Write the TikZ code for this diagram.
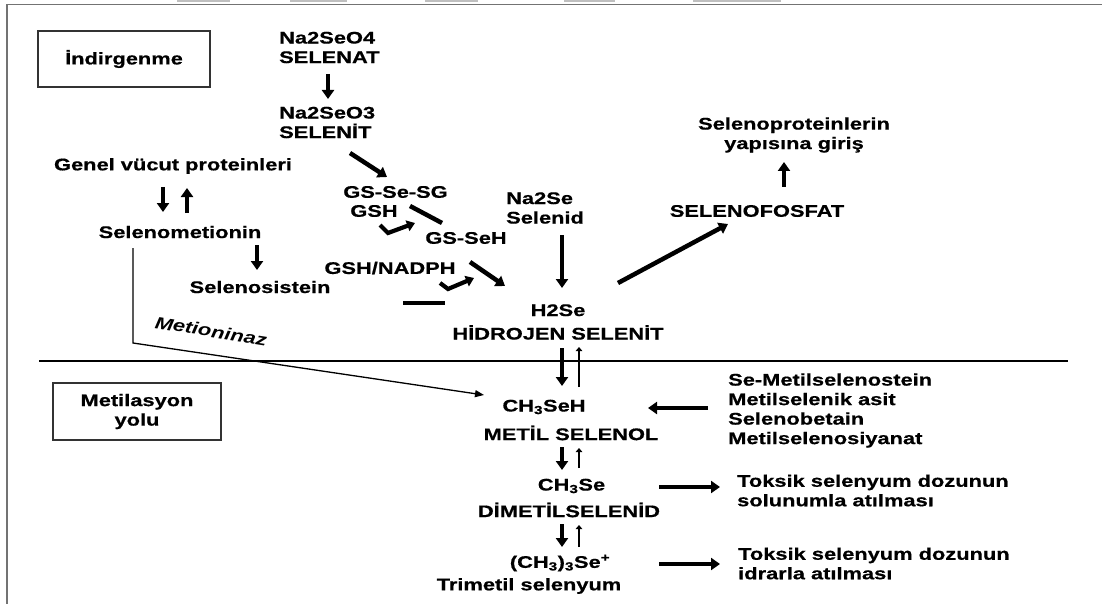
\documentclass[tikz,border=0pt]{standalone}
\usepackage{fontspec}
\setmainfont{Liberation Sans}[FakeStretch=1.3, BoldFeatures={FakeBold=0.6}]
\usetikzlibrary{arrows.meta}

\newcommand*{\xmax}{1102}
\newcommand*{\ymax}{604}

\begin{document}
\begin{tikzpicture}
[
	x=1pt, y=-1pt,
	lbl/.style={font=\fontsize{16.8}{19.5}\selectfont\bfseries, inner sep=1pt, align=left},
	lblc/.style={lbl, align=center},
	frame/.style={draw=black!80, line width=1.5pt},
	fat/.style={line width=4.5pt, -{Triangle[length=9pt,width=12pt]}},
	slim/.style={line width=1.5pt, -{Triangle[length=4pt,width=6.5pt]}},
	bar/.style={line width=4.5pt},
	hook/.style={line width=4.2pt, line join=miter, -{Triangle[length=8pt,width=11pt]}},
	enz/.style={line width=1.3pt, -{Triangle[length=9pt,width=7pt]}}
]
	\useasboundingbox (0,0) rectangle (\xmax,\ymax);

	% page edge
	\foreach \a/\b in {177/230, 290/347, 425/478, 564/615, 693/781}
		\fill[black!25] (\a,0) rectangle (\b,2.5);
	\draw[black!55, line width=1.5pt] (7,\ymax) -- (7,4.5) -- (\xmax,4.5);

	% cell boundary
	\draw[line width=2pt] (39,361) -- (1068,361);

	% upper part
	\node[lblc, frame, minimum width=172pt, minimum height=56pt] (indir) at (124,59) {İndirgenme};
	\node[lbl, anchor=west] (selenat) at (278,47.5) {Na2SeO4\\SELENAT};
	\node[lbl, anchor=west] (selenit) at (278,122.5) {Na2SeO3\\SELENİT};
	\node[lbl] (genel) at (173,166) {Genel vücut proteinleri};
	\node[lbl] (semet) at (180,232) {Selenometionin};
	\node[lbl] (secys) at (260,287) {Selenosistein};
	\node[lbl] (gssesg) at (395.5,192) {GS-Se-SG};
	\node[lbl] (gsh) at (374,211) {GSH};
	\node[lbl] (gsseh) at (466,238) {GS-SeH};
	\node[lbl] (nadph) at (390,268) {GSH/NADPH};
	\node[lbl, anchor=west] (na2se) at (505,208) {Na2Se\\Selenid};
	\node[lblc] (h2se) at (558,322) {H2Se\\[4pt]HİDROJEN SELENİT};
	\node[lbl] (fosfat) at (757,211) {SELENOFOSFAT};
	\node[lblc] (selprot) at (794,135) {Selenoproteinlerin\\yapısına giriş};
	\node[lbl, rotate=-9] (metlbl) at (211,331) {\itshape Metioninaz};

	% lower part
	\node[lblc, frame, minimum width=168pt, minimum height=57pt] (metbox) at (137,411.5) {Metilasyon\\yolu};
	\node[lbl] (ch3seh) at (544,407) {CH\textsubscript{3}SeH};
	\node[lbl] (metsel) at (571,433) {METİL SELENOL};
	\node[lbl, anchor=west] (others) at (727,410.5) {Se-Metilselenostein\\Metilselenik asit\\Selenobetain\\Metilselenosiyanat};
	\node[lbl] (ch3se) at (571.5,486) {CH\textsubscript{3}Se};
	\node[lbl] (dimet) at (569,510) {DİMETİLSELENİD};
	\node[lbl, anchor=west] (toks1) at (736,490.5) {Toksik selenyum dozunun\\solunumla atılması};
	\node[lbl] (tmse) at (560,563) {(CH\textsubscript{3})\textsubscript{3}Se\textsuperscript{+}};
	\node[lbl] (trimet) at (529,586) {Trimetil selenyum};
	\node[lbl, anchor=west] (toks2) at (737,563.5) {Toksik selenyum dozunun\\idrarla atılması};

	% reduction
	\draw[fat] ([shift={(50,26.5)}]selenat.west) -- ([shift={(50,-23.5)}]selenit.west);
	\draw[fat] ([shift={(72,30.5)}]selenit.west) -- ([shift={(-8.5,-15)}]gssesg.center);
	\draw[bar] ([shift={(14.5,14)}]gssesg.center) -- ([shift={(-24,-15)}]gsseh.center);
	\draw[hook] ([shift={(6,14)}]gsh.center) -- ([shift={(14,22)}]gsh.center) -- ([shift={(-51,-15)}]gsseh.center);
	\draw[fat] ([shift={(4,24)}]gsseh.center) -- ([shift={(-53,-36)}]h2se.center);
	\draw[hook] ([shift={(50,15)}]nadph.center) -- ([shift={(58,21)}]nadph.center) -- ([shift={(-84,-44)}]h2se.center);
	\draw[bar] ([shift={(13,35)}]nadph.center) -- ([shift={(55,35)}]nadph.center);
	\draw[fat] ([shift={(57,27)}]na2se.west) -- ([shift={(4,-34)}]h2se.center);
	\draw[fat] ([shift={(60,-39)}]h2se.center) -- ([shift={(-29,13)}]fosfat.center);
	\draw[fat] ([shift={(27,-24)}]fosfat.center) -- ([shift={(-10,27)}]selprot.center);

	% selenomethionine
	\draw[fat] ([shift={(-10,21)}]genel.center) -- ([shift={(-17,-20)}]semet.center);
	\draw[fat] ([shift={(7,-19)}]semet.center) -- ([shift={(14,22)}]genel.center);
	\draw[fat] ([shift={(77,13)}]semet.center) -- ([shift={(-3,-17)}]secys.center);
	\draw[enz] ([shift={(-47,16)}]semet.center) -- ++(0,95) -- ([shift={(-60,-12)}]ch3seh.center);

	% methylation
	\draw[fat] ([shift={(4,26)}]h2se.center) -- ([shift={(18,-21)}]ch3seh.center);
	\draw[slim] ([shift={(35,-20)}]ch3seh.center) -- ([shift={(21,25)}]h2se.center);
	\draw[fat] ([shift={(-19,-2.5)}]others.west) -- ([shift={(104,1)}]ch3seh.center);
	\draw[fat] ([shift={(-9,14)}]metsel.center) -- ([shift={(-9.5,-16)}]ch3se.center);
	\draw[slim] ([shift={(7.5,-18)}]ch3se.center) -- ([shift={(8,15)}]metsel.center);
	\draw[fat] ([shift={(87.5,1)}]ch3se.center) -- ([shift={(-16,-3.5)}]toks1.west);
	\draw[fat] ([shift={(-7,14)}]dimet.center) -- ([shift={(2,-16)}]tmse.center);
	\draw[slim] ([shift={(19,-16)}]tmse.center) -- ([shift={(10,15)}]dimet.center);
	\draw[fat] ([shift={(99,1)}]tmse.center) -- ([shift={(-17,0.5)}]toks2.west);

\end{tikzpicture}
\end{document}
